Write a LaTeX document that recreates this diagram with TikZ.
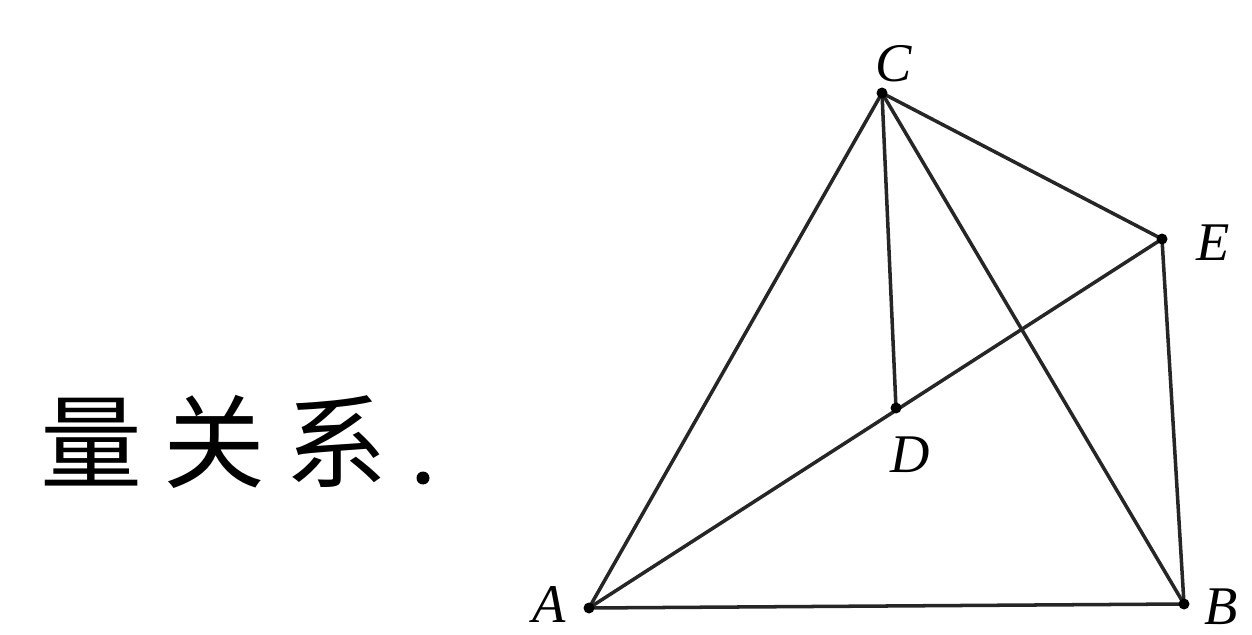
\documentclass[tikz,border=0pt]{standalone}
\usepackage{fontspec}
\setmainfont{Liberation Serif}
\newfontfamily\cjk{Noto Sans CJK SC}
\begin{document}
\begin{tikzpicture}[x=0.02cm,y=-0.02cm,
  seg/.style={line width=2pt,black!85},
  pt/.style={circle,fill=black,inner sep=0pt,minimum size=0.22cm},
  lab/.style={font=\fontsize{31}{31}\selectfont\itshape,inner sep=0pt},
  han/.style={font=\cjk\fontsize{58}{58}\selectfont,inner sep=0pt}]
\useasboundingbox (0,0) rectangle (1252,635);
\coordinate (A) at (589,608);
\coordinate (B) at (1184,604);
\coordinate (C) at (882,93);
\coordinate (D) at (896,408);
\coordinate (E) at (1162,239);
\draw[seg] (A) -- (B) -- (E) -- (C) -- cycle;
\draw[seg] (A) -- (E);
\draw[seg] (C) -- (D);
\draw[seg] (C) -- (B);
\foreach \p in {A,B,C,D,E} \node[pt] (d\p) at (\p) {};
\node[lab] (lC) at (894,64) {C};
\node[lab] (lE) at (1213,243) {E};
\node[lab] (lD) at (910,455) {D};
\node[lab] (lA) at (549,605) {A};
\node[lab] (lB) at (1221,607) {B};
\node[han] (h1) at (91,442) {量};
\node[han] (h2) at (214,442) {关};
\node[han] (h3) at (336,442) {系};
\node[circle,fill=black,inner sep=0pt,minimum size=0.26cm] (dot) at (423,478) {};
\end{tikzpicture}
\end{document}
